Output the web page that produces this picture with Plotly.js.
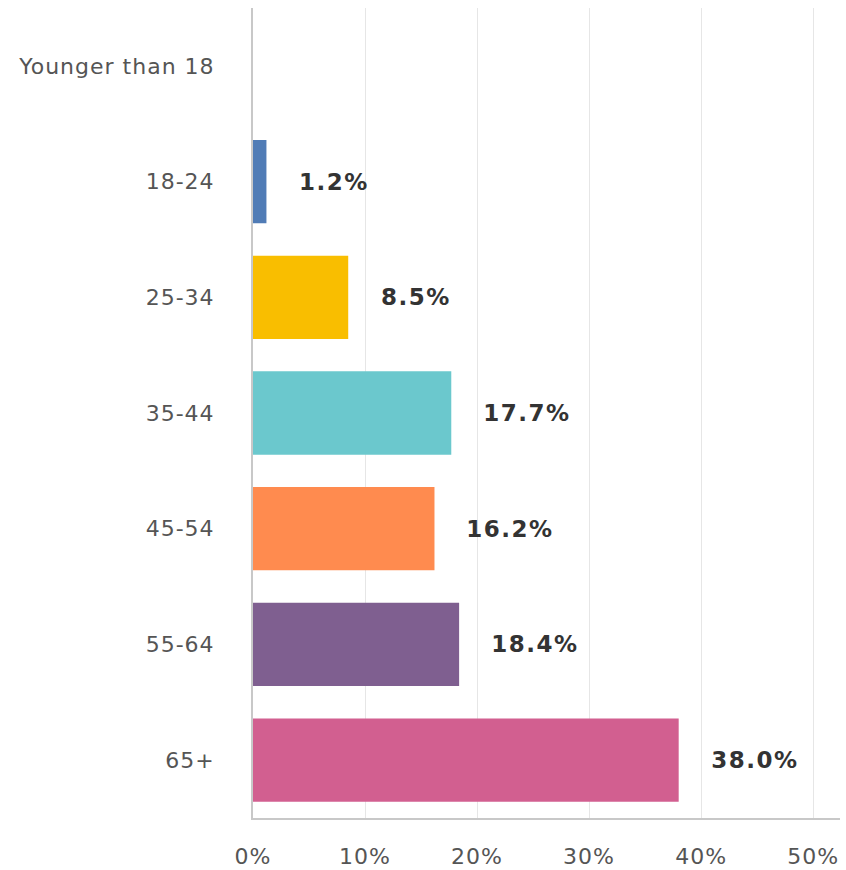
<!DOCTYPE html>
<html>
<head>
<meta charset="utf-8">
<script src="https://cdn.plot.ly/plotly-3.0.1.min.js"></script>
<style>
html,body{margin:0;padding:0;background:#fff;}
#chart{width:846px;height:870px;}
#chart .xtick text, #chart .ytick text{letter-spacing:1px;}
#chart .annotation-text{letter-spacing:1.5px;}
</style>
</head>
<body>
<div id="chart"></div>
<script>
const categories = ["Younger than 18", "18-24", "25-34", "35-44", "45-54", "55-64", "65+"];
const values = [0, 1.2, 8.5, 17.7, 16.2, 18.4, 38.0];
const valueLabels = ["", "1.2%", "8.5%", "17.7%", "16.2%", "18.4%", "38.0%"];
const colors = ["#507cb6", "#507cb6", "#f9be00", "#6bc8cd", "#ff8b4f", "#7f5f90", "#d25f90"];
const xTicks = [0, 10, 20, 30, 40, 50];
const xTickLabels = ["0%", "10%", "20%", "30%", "40%", "50%"];

const trace = {
  type: "bar",
  orientation: "h",
  x: values,
  y: categories,
  marker: {color: colors},
  hoverinfo: "none"
};

const annotations = categories.map((c, i) => ({
  x: values[i], y: c, xref: "x", yref: "y",
  text: valueLabels[i], showarrow: false,
  xanchor: "left", xshift: 34,
  font: {family: "DejaVu Sans, sans-serif", size: 23, color: "#333", weight: "bold"}
})).filter(a => a.text !== "");

const layout = {
  width: 846, height: 870,
  margin: {l: 253, r: 6, t: 8, b: 52},
  paper_bgcolor: "#fff", plot_bgcolor: "#fff",
  showlegend: false,
  bargap: 0.28,
  font: {family: "DejaVu Sans, sans-serif", color: "#555"},
  xaxis: {
    range: [0, 52.4],
    tickvals: xTicks, ticktext: xTickLabels,
    showgrid: true, gridcolor: "#e6e6e6", gridwidth: 1,
    zeroline: false,
    showline: true, linecolor: "#c8c8c8", linewidth: 2,
    ticks: "outside", ticklen: 18, tickcolor: "rgba(0,0,0,0)",
    tickfont: {size: 22, color: "#555"},
    fixedrange: true
  },
  yaxis: {
    type: "category",
    categoryorder: "array", categoryarray: categories,
    autorange: "reversed",
    showgrid: false, zeroline: false,
    showline: true, linecolor: "#c8c8c8", linewidth: 2,
    ticks: "outside", ticklen: 32, tickcolor: "rgba(0,0,0,0)",
    tickfont: {size: 22, color: "#555"},
    fixedrange: true
  },
  annotations: annotations
};

Plotly.newPlot("chart", [trace], layout, {displayModeBar: false, staticPlot: true});
</script>
</body>
</html>
